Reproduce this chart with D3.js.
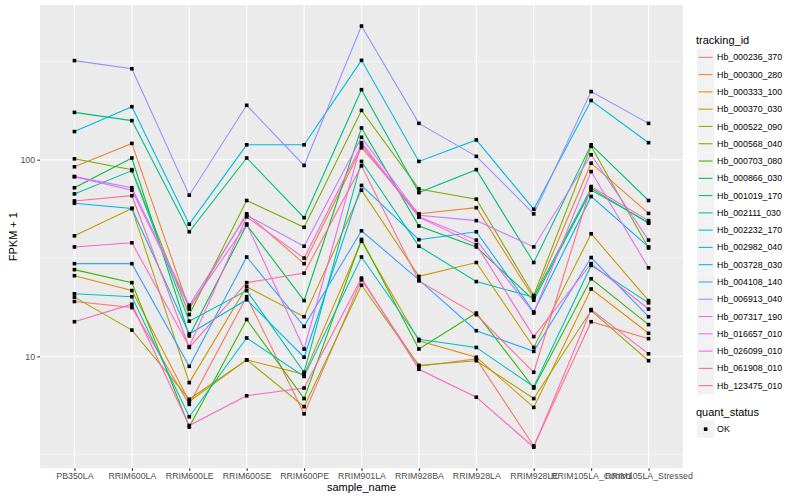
<!DOCTYPE html>
<html><head><meta charset="utf-8">
<script src="https://cdn.jsdelivr.net/npm/d3@7"></script>
<style>body{margin:0;background:#fff}text{font-family:"Liberation Sans",Arial,Helvetica,sans-serif}</style>
</head><body>
<svg id="c" width="800" height="500"></svg>
<script>
// ---------- data ----------
const samples = ["PB350LA","RRIM600LA","RRIM600LE","RRIM600SE","RRIM600PE","RRIM901LA","RRIM928BA","RRIM928LA","RRIM928LE","RRIM105LA_Control","RRIM105LA_Stressed"];
const trackingIds = ["Hb_000236_370","Hb_000300_280","Hb_000333_100","Hb_000370_030","Hb_000522_090","Hb_000568_040","Hb_000703_080","Hb_000866_030","Hb_001019_170","Hb_002111_030","Hb_002232_170","Hb_002982_040","Hb_003728_030","Hb_004108_140","Hb_006913_040","Hb_007317_190","Hb_016657_010","Hb_026099_010","Hb_061908_010","Hb_123475_010"];
const palette = ["#F8766D","#EA8331","#D89000","#C09B00","#A3A500","#7CAE00","#39B600","#00BB4E","#00BF7D","#00C1A3","#00BFC4","#00BAE0","#00B0F6","#35A2FF","#9590FF","#C77CFF","#E76BF3","#FA62DB","#FF62BC","#FF6C91"];
const quantStatus = ["OK"];
const yBreaks = [10, 100];
const yMinorBreaks = [3.162, 31.62, 316.2];

// FPKM + 1 per sample, one array per tracking_id
const Hb_000236_370 = [19.0, 17.7, 5.7, 20.1, 5.1, 24.5, 8.9, 9.7, 3.5, 15.0, 12.3];
const Hb_000300_280 = [92, 121, 17.4, 53.1, 29.6, 115, 53.1, 57, 19.8, 96, 53.3];
const Hb_000333_100 = [25.7, 21.6, 5.9, 9.6, 8.1, 38.5, 12.0, 9.9, 5.5, 22, 13.1];
const Hb_000370_030 = [41, 56.5, 7.35, 22.6, 15.9, 70, 25.5, 30, 11.1, 42, 19.2];
const Hb_000522_090 = [20, 13.6, 6.05, 9.6, 5.55, 23, 9.0, 9.5, 6.1, 17.1, 9.5];
const Hb_000568_040 = [101, 89, 16.3, 62, 45.3, 178, 71, 63, 20.4, 117, 35.6];
const Hb_000703_080 = [27.6, 23.7, 4.37, 15.4, 6.1, 39.3, 10.9, 16.6, 6.9, 24.8, 14.5];
const Hb_000866_030 = [72, 102, 12.7, 46.6, 19.2, 145, 46, 36, 19.3, 70, 48];
const Hb_001019_170 = [174, 158, 43, 102, 50.7, 227, 68, 89, 30, 119, 62];
const Hb_002111_030 = [67, 88, 15.1, 21.6, 8.3, 98, 36.3, 24, 20, 71.5, 47.5];
const Hb_002232_170 = [20.8, 20.1, 4.93, 12.4, 7.9, 32, 12.2, 11.1, 7.0, 29, 18.7];
const Hb_002982_040 = [139, 186, 47, 119, 119, 320, 98, 126, 56, 200, 122];
const Hb_003728_030 = [60, 56.5, 13.0, 19.4, 9.9, 74, 39.2, 43, 16.8, 65, 36];
const Hb_004108_140 = [29.6, 29.6, 8.9, 32, 14.2, 43.5, 24.5, 13.5, 10.6, 31.8, 15.9];
const Hb_006913_040 = [319, 290, 66, 189, 93.5, 478, 153, 104, 53, 222, 153];
const Hb_007317_190 = [82, 72, 18.2, 52.2, 36.3, 130, 52.2, 49, 36, 106, 39];
const Hb_016657_010 = [82, 70, 17.8, 47.1, 10.9, 122, 51.3, 39, 16.6, 87, 28.2];
const Hb_026099_010 = [36, 37.8, 11.2, 51.2, 31.6, 119, 51, 37, 12.6, 29.6, 17.4];
const Hb_061908_010 = [15, 18.4, 4.45, 6.3, 6.9, 25, 8.6, 6.2, 3.45, 17.3, 10.3];
const Hb_123475_010 = [61.7, 65.6, 11.1, 23.7, 26.5, 93, 24.2, 16.3, 8.3, 73, 49];

const seriesValues = [Hb_000236_370,Hb_000300_280,Hb_000333_100,Hb_000370_030,Hb_000522_090,Hb_000568_040,Hb_000703_080,Hb_000866_030,Hb_001019_170,Hb_002111_030,Hb_002232_170,Hb_002982_040,Hb_003728_030,Hb_004108_140,Hb_006913_040,Hb_007317_190,Hb_016657_010,Hb_026099_010,Hb_061908_010,Hb_123475_010];

// ---------- layout ----------
const P = {l: 40, r: 683, t: 5, b: 468.3};
const svg = d3.select("#c");
svg.append("rect").attr("width", 800).attr("height", 500).attr("fill", "#fff");

const series = trackingIds.map((id, i) => ({id, color: palette[i], values: seriesValues[i].map((v, j) => ({s: samples[j], v}))}));
const all = seriesValues.flat();
const lmin = Math.log10(d3.min(all)), lmax = Math.log10(d3.max(all));
const ex = (lmax - lmin) * 0.05;
const y = d3.scaleLog().domain([Math.pow(10, lmin - ex), Math.pow(10, lmax + ex)]).range([P.b, P.t]);
const x = d3.scalePoint().domain(samples).range([P.l, P.r]).padding(0.6);
const color = d3.scaleOrdinal().domain(trackingIds).range(palette);

// panel
svg.append("rect").attr("x", P.l).attr("y", P.t).attr("width", P.r - P.l).attr("height", P.b - P.t).attr("fill", "#EBEBEB");
const grid = svg.append("g");
grid.selectAll(".ymin").data(yMinorBreaks).join("line")
  .attr("x1", P.l).attr("x2", P.r).attr("y1", d => y(d)).attr("y2", d => y(d))
  .attr("stroke", "#fff").attr("stroke-width", 0.53);
grid.selectAll(".ymaj").data(yBreaks).join("line")
  .attr("x1", P.l).attr("x2", P.r).attr("y1", d => y(d)).attr("y2", d => y(d))
  .attr("stroke", "#fff").attr("stroke-width", 1.07);
grid.selectAll(".xmaj").data(samples).join("line")
  .attr("x1", d => x(d)).attr("x2", d => x(d)).attr("y1", P.t).attr("y2", P.b)
  .attr("stroke", "#fff").attr("stroke-width", 1.07);

// lines
const line = d3.line().x(d => x(d.s)).y(d => y(d.v));
svg.append("g").selectAll("path").data(series).join("path")
  .attr("d", d => line(d.values)).attr("fill", "none")
  .attr("stroke", d => color(d.id)).attr("stroke-width", 1.07);

// points
const pts = series.flatMap(d => d.values);
const ps = 3.6;
svg.append("g").selectAll("rect").data(pts).join("rect")
  .attr("x", d => x(d.s) - ps / 2).attr("y", d => y(d.v) - ps / 2)
  .attr("width", ps).attr("height", ps).attr("fill", "#000");

// axes
const xAxis = svg.append("g").attr("transform", `translate(0,${P.b})`)
  .call(d3.axisBottom(x).tickSize(2.74).tickPadding(2.2));
const yAxis = svg.append("g").attr("transform", `translate(${P.l},0)`)
  .call(d3.axisLeft(y).tickValues(yBreaks).tickFormat(d3.format("d")).tickSize(2.74).tickPadding(2.2));
[xAxis, yAxis].forEach(a => {
  a.select(".domain").remove();
  a.selectAll(".tick line").attr("stroke", "#333333").attr("stroke-width", 1.07);
  a.selectAll(".tick text").attr("fill", "#4D4D4D").style("font-size", "8.8px").style("font-family", '"Liberation Sans",Arial,sans-serif');
});

svg.append("text").attr("x", (P.l + P.r) / 2).attr("y", 491).attr("text-anchor", "middle")
  .style("font-size", "11px").attr("fill", "#000").text("sample_name");
svg.append("text").attr("transform", `translate(17,${(P.t + P.b) / 2}) rotate(-90)`).attr("text-anchor", "middle")
  .style("font-size", "11px").attr("fill", "#000").text("FPKM + 1");

// legend: tracking_id
const L = {x: 697, y: 48.7, k: 17.28};
svg.append("text").attr("x", 696).attr("y", 44).style("font-size", "11px").attr("fill", "#000").text("tracking_id");
const lg = svg.append("g").selectAll("g").data(trackingIds).join("g")
  .attr("transform", (d, i) => `translate(${L.x},${L.y + i * L.k})`);
lg.append("rect").attr("width", L.k).attr("height", L.k).attr("fill", "#F2F2F2");
lg.append("line").attr("x1", 1.7).attr("x2", L.k - 1.7).attr("y1", L.k / 2).attr("y2", L.k / 2)
  .attr("stroke", d => color(d)).attr("stroke-width", 1.07);
lg.append("text").attr("x", L.k + 2.8).attr("y", L.k / 2).attr("dy", "0.35em")
  .style("font-size", "8.8px").attr("fill", "#000").text(d => d);

// legend: quant_status
svg.append("text").attr("x", 696).attr("y", 415.5).style("font-size", "11px").attr("fill", "#000").text("quant_status");
const qg = svg.append("g").selectAll("g").data(quantStatus).join("g")
  .attr("transform", (d, i) => `translate(${L.x},${420.5 + i * L.k})`);
qg.append("rect").attr("width", L.k).attr("height", L.k).attr("fill", "#F2F2F2");
qg.append("rect").attr("x", L.k / 2 - ps / 2).attr("y", L.k / 2 - ps / 2).attr("width", ps).attr("height", ps).attr("fill", "#000");
qg.append("text").attr("x", L.k + 2.8).attr("y", L.k / 2).attr("dy", "0.35em")
  .style("font-size", "8.8px").attr("fill", "#000").text(d => d);
</script>
</body></html>
